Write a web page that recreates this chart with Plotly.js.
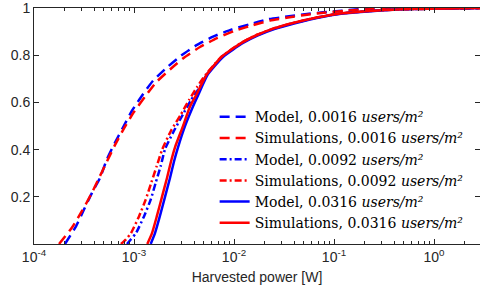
<!DOCTYPE html>
<html>
<head>
<meta charset="utf-8">
<script src="https://cdn.plot.ly/plotly-3.0.1.min.js"></script>
<style>html,body{margin:0;padding:0;background:#fff;}#plot{width:480px;height:300px;}</style>
</head>
<body>
<div id="plot"></div>
<script>
// Harvested power [W] (x) and CDF (y) for each series
const modelX_0016 = [2.04e-4, 2.63e-4, 3.16e-4, 3.80e-4, 4.57e-4, 5.37e-4, 6.46e-4, 7.76e-4, 9.55e-4, 1.23e-3, 1.55e-3, 2.14e-3, 2.95e-3, 4.27e-3, 6.17e-3, 9.55e-3, 0.0145, 0.0214, 0.0324, 0.0513, 0.0776, 0.120, 0.174, 0.398, 2.88];
const modelY_0016 = [0, 0.075, 0.146, 0.217, 0.28, 0.36, 0.43, 0.494, 0.565, 0.635, 0.692, 0.749, 0.798, 0.844, 0.879, 0.91, 0.932, 0.952, 0.963, 0.974, 0.982, 0.989, 0.995, 0.999, 1];
const simX_0016 = [1.78e-4, 2.40e-4, 3.02e-4, 3.72e-4, 4.47e-4, 5.37e-4, 6.46e-4, 7.94e-4, 1.00e-3, 1.29e-3, 1.66e-3, 2.29e-3, 3.16e-3, 4.57e-3, 6.76e-3, 0.0102, 0.0155, 0.0229, 0.0347, 0.0537, 0.0832, 0.126, 0.191, 0.398, 2.88];
const simY_0016 = [0, 0.07, 0.14, 0.21, 0.28, 0.35, 0.42, 0.49, 0.56, 0.625, 0.685, 0.74, 0.79, 0.835, 0.873, 0.904, 0.928, 0.947, 0.96, 0.972, 0.981, 0.988, 0.994, 0.998, 1];
const modelX_0092 = [8.51e-4, 9.33e-4, 1.047e-3, 1.259e-3, 1.469e-3, 1.648e-3, 1.849e-3, 2.042e-3, 2.512e-3, 3.090e-3, 3.715e-3, 4.467e-3, 5.370e-3, 7.586e-3, 0.01202, 0.01698, 0.02512, 0.03981, 0.06761, 0.1148, 0.2291, 0.4898, 2.884];
const modelY_0092 = [0, 0.02, 0.046, 0.117, 0.188, 0.26, 0.33, 0.402, 0.48, 0.55, 0.61, 0.66, 0.72, 0.794, 0.853, 0.885, 0.913, 0.937, 0.96, 0.977, 0.988, 0.995, 1];
const simX_0092 = [7.41e-4, 8.32e-4, 9.33e-4, 1.122e-3, 1.309e-3, 1.489e-3, 1.687e-3, 1.919e-3, 2.344e-3, 2.951e-3, 3.548e-3, 4.266e-3, 5.248e-3, 7.586e-3, 0.01202, 0.01698, 0.02512, 0.03981, 0.06761, 0.1148, 0.2291, 0.4898, 2.884];
const simY_0092 = [0, 0.02, 0.046, 0.117, 0.188, 0.26, 0.33, 0.402, 0.48, 0.55, 0.61, 0.665, 0.72, 0.796, 0.855, 0.887, 0.914, 0.938, 0.96, 0.977, 0.988, 0.995, 1];
const modelX_0316 = [1.469e-3, 1.622e-3, 1.820e-3, 2.042e-3, 2.291e-3, 2.512e-3, 2.754e-3, 3.236e-3, 3.890e-3, 4.365e-3, 5.495e-3, 7.762e-3, 0.01230, 0.01738, 0.02570, 0.04074, 0.06918, 0.1175, 0.2344, 0.5012, 2.884];
const modelY_0316 = [0, 0.046, 0.12, 0.2, 0.28, 0.35, 0.41, 0.5, 0.583, 0.63, 0.72, 0.793, 0.852, 0.884, 0.912, 0.936, 0.959, 0.976, 0.987, 0.995, 1];
const simX_0316 = [1.358e-3, 1.514e-3, 1.698e-3, 1.905e-3, 2.138e-3, 2.344e-3, 2.570e-3, 3.090e-3, 3.631e-3, 4.169e-3, 5.370e-3, 7.586e-3, 0.01202, 0.01698, 0.02512, 0.03981, 0.06761, 0.1148, 0.2291, 0.4898, 2.884];
const simY_0316 = [0, 0.046, 0.12, 0.2, 0.28, 0.35, 0.41, 0.5, 0.583, 0.63, 0.72, 0.795, 0.854, 0.886, 0.914, 0.938, 0.96, 0.977, 0.988, 0.995, 1];

const seriesNames = [
  'Model, 0.0016 <i>users/m²</i>',
  'Simulations, 0.0016 <i>users/m²</i>',
  'Model, 0.0092 <i>users/m²</i>',
  'Simulations, 0.0092 <i>users/m²</i>',
  'Model, 0.0316 <i>users/m²</i>',
  'Simulations, 0.0316 <i>users/m²</i>'
];
const xTicks = [1e-4, 1e-3, 1e-2, 1e-1, 1];
const xTickText = ['10<sup>-4</sup>', '10<sup>-3</sup>', '10<sup>-2</sup>', '10<sup>-1</sup>', '10<sup>0</sup>'];
const yTicks = [0.2, 0.4, 0.6, 0.8, 1];
const yTickText = ['0.2', '0.4', '0.6', '0.8', '1'];

const BLUE = '#0000ff', RED = '#ff0000';
const DASH = '10px,6px', DASHDOT = '7px,3px,2px,3px';
function tr(x, y, name, color, dash) {
  return {x: x, y: y, name: name, type: 'scatter', mode: 'lines',
    line: {color: color, width: 2.5, dash: dash, shape: 'spline', smoothing: 0.5}};
}
const data = [
  tr(modelX_0016, modelY_0016, seriesNames[0], BLUE, DASH),
  tr(simX_0016, simY_0016, seriesNames[1], RED, DASH),
  tr(modelX_0092, modelY_0092, seriesNames[2], BLUE, DASHDOT),
  tr(simX_0092, simY_0092, seriesNames[3], RED, DASHDOT),
  tr(modelX_0316, modelY_0316, seriesNames[4], BLUE, 'solid'),
  tr(simX_0316, simY_0316, seriesNames[5], RED, 'solid')
];
const axisColor = '#262626';
const layout = {
  width: 480, height: 300,
  margin: {l: 34, r: 0, t: 8, b: 56},
  paper_bgcolor: '#fff', plot_bgcolor: '#fff',
  showlegend: true,
  legend: {x: 0.405, y: 0.605, xanchor: 'left', yanchor: 'top', bgcolor: 'rgba(0,0,0,0)',
    font: {family: 'DejaVu Serif, serif', size: 14, color: '#000'}, tracegroupgap: 0},
  xaxis: {type: 'log', range: [-4, 0.46], tickvals: xTicks, ticktext: xTickText,
    showgrid: false, zeroline: false, showline: true, linecolor: axisColor, linewidth: 1,
    mirror: 'allticks', ticks: 'inside', ticklen: 5, tickcolor: axisColor,
    minor: {dtick: 'D1', ticks: 'inside', ticklen: 3, tickcolor: axisColor, showgrid: false},
    tickfont: {family: 'Liberation Sans, Arial, sans-serif', size: 14, color: axisColor},
    title: {text: 'Harvested power [W]', standoff: 8, font: {family: 'Liberation Sans, Arial, sans-serif', size: 14, color: axisColor}}},
  yaxis: {range: [0, 1.0005], tickvals: yTicks, ticktext: yTickText,
    showgrid: false, zeroline: false, showline: true, linecolor: axisColor, linewidth: 1,
    mirror: 'allticks', ticks: 'inside', ticklen: 5, tickcolor: axisColor,
    tickfont: {family: 'Liberation Sans, Arial, sans-serif', size: 14, color: axisColor}}
};
Plotly.newPlot('plot', data, layout, {displayModeBar: false, staticPlot: true});
</script>
</body>
</html>
